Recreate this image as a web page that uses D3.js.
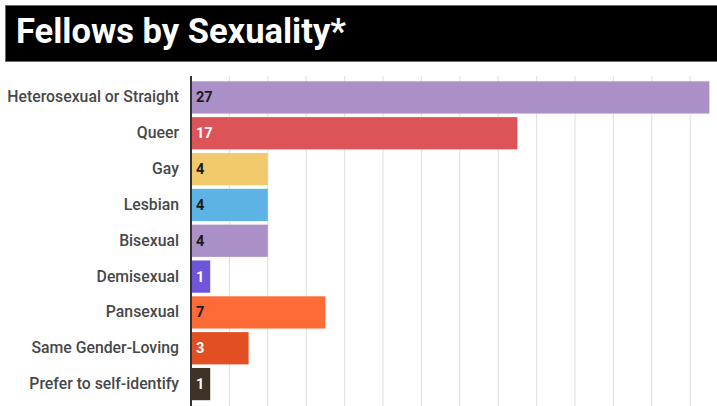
<!DOCTYPE html>
<html>
<head>
<meta charset="utf-8">
<script src="https://cdn.jsdelivr.net/npm/d3@7"></script>
<style>
  html, body { margin: 0; padding: 0; background: #fff; }
  svg { display: block; font-family: Roboto, "Noto Sans", sans-serif; }
</style>
</head>
<body>
<svg id="chart" width="717" height="406"></svg>
<script>
// Fellows grouped by self-reported sexuality
const categories = [
  "Heterosexual or Straight",
  "Queer",
  "Gay",
  "Lesbian",
  "Bisexual",
  "Demisexual",
  "Pansexual",
  "Same Gender-Loving",
  "Prefer to self-identify"
];
const counts = [27, 17, 4, 4, 4, 1, 7, 3, 1];
const barColors = ["#ab8fc7", "#dc5358", "#f0ca6b", "#5db4e4", "#ab8fc7", "#6e55da", "#fe6b36", "#e24f22", "#3f3326"];
const labelColors = ["#1a1a1a", "#ffffff", "#1a1a1a", "#1a1a1a", "#1a1a1a", "#ffffff", "#1a1a1a", "#ffffff", "#ffffff"];
const gridTicks = [2, 4, 6, 8, 10, 12, 14, 16, 18, 20, 22, 24, 26, 28];
const title = "Fellows by Sexuality*";

const rows = categories.map((c, i) => ({ name: c, value: counts[i], fill: barColors[i], ink: labelColors[i] }));

const svg = d3.select("#chart");

// Title banner
svg.append("rect")
  .attr("x", 5.5).attr("y", 5.5).attr("width", 716).attr("height", 56)
  .attr("fill", "#000").attr("stroke", "#6a6a6a").attr("stroke-width", 1);
svg.append("text")
  .attr("x", 16).attr("y", 43)
  .attr("fill", "#fff")
  .attr("font-size", 34.5).attr("font-weight", 700)
  .text(title);

// Scales
const x0 = 191;
const x = d3.scaleLinear().domain([0, 27]).range([x0, x0 + 27 * 19.2]);
const y = d3.scaleBand().domain(categories).range([79.5, 402]).paddingInner(0.1).paddingOuter(0.05);

// Vertical gridlines
svg.append("g").selectAll("line").data(gridTicks).join("line")
  .attr("x1", d => x(d)).attr("x2", d => x(d))
  .attr("y1", 76).attr("y2", 406)
  .attr("stroke", "#e3e3e3").attr("stroke-width", 1.2);

// Bars
svg.append("g").selectAll("rect").data(rows).join("rect")
  .attr("x", x(0))
  .attr("y", d => y(d.name))
  .attr("width", d => x(d.value) - x(0))
  .attr("height", y.bandwidth())
  .attr("fill", d => d.fill);

// Value labels inside bars
svg.append("g").selectAll("text").data(rows).join("text")
  .attr("x", x(0) + 5)
  .attr("y", d => y(d.name) + y.bandwidth() / 2)
  .attr("dy", "0.35em")
  .attr("fill", d => d.ink)
  .attr("font-size", 14.5).attr("font-weight", 700)
  .text(d => d.value);

// Category axis
const yAxis = d3.axisLeft(y).tickSize(0).tickPadding(12);
const gAxis = svg.append("g").attr("transform", `translate(${x0},0)`).call(yAxis);
gAxis.select(".domain").remove();
gAxis.selectAll("text")
  .attr("font-family", "Roboto, sans-serif")
  .attr("font-size", 15.8).attr("font-weight", 500)
  .attr("fill", "#484848");
svg.append("line")
  .attr("x1", x0).attr("x2", x0).attr("y1", 76).attr("y2", 406)
  .attr("stroke", "#333").attr("stroke-width", 2);
</script>
</body>
</html>
